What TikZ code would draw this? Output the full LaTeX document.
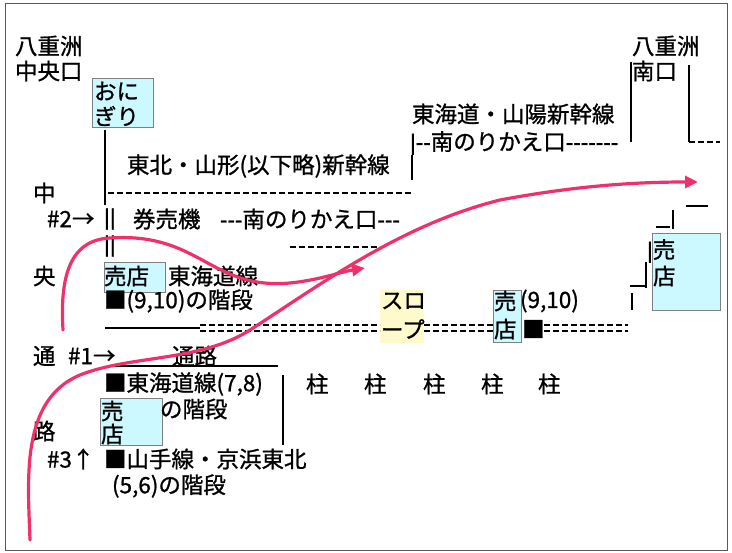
\documentclass[tikz,border=0pt]{standalone}
\usepackage{fontspec}
\setmainfont{Noto Sans CJK JP}[FakeBold=1]
\newfontfamily\latin{Liberation Sans}[FakeBold=1]
\newcommand{\dsh}[1]{{\latin #1}}
\usetikzlibrary{arrows.meta,positioning}
\definecolor{shopColor}{HTML}{CCF8FF}
\definecolor{slopeColor}{HTML}{FFFACC}
\definecolor{routeColor}{HTML}{F0306A}
\tikzset{
	txt/.style={anchor=west,inner sep=0,outer sep=0,font=\fontsize{22.5}{25}\selectfont},
	shop/.style={draw=gray,fill=shopColor,inner sep=0},
	wall/.style={line width=2.6pt},
	thin wall/.style={line width=1.3pt},
	dashes/.style={line width=1.3pt,dash pattern=on 6pt off 3pt},
	route/.style={routeColor,line width=3.2pt,line cap=round,-{Triangle[length=13pt,width=12pt]}}
}
\begin{document}
\begin{tikzpicture}[x=1pt,y=-1pt]
	\useasboundingbox (0,0) rectangle (732,553);
	\draw[gray!70!black] (5,3) rectangle (727,550);
	% shops and slope
	\node[shop,minimum width=61,minimum height=49] (onigiri) at (122.5,102.5) {};
	\node[shop,minimum width=61,minimum height=30] (shopA) at (134.5,277) {};
	\node[shop,minimum width=62,minimum height=47] (shopB) at (131,421.5) {};
	\node[shop,minimum width=28,minimum height=52] (shopC) at (507,316) {};
	\node[shop,minimum width=68,minimum height=77] (shopD) at (686,271.5) {};
	\node[fill=slopeColor,inner sep=0,minimum width=44,minimum height=53] (slope) at (402,316.5) {};
	% texts
	\node[txt] (yaeN1) at (15,46) {八重洲};
	\node[txt] (yaeN2) at (15,71) {中央口};
	\node[txt] (oni1) at (94,91) {おに};
	\node[txt] (oni2) at (94,116) {ぎり};
	\node[txt] (yaeS1) at (632,46) {八重洲};
	\node[txt] (yaeS2) at (632,71) {南口};
	\node[txt] (tokaidoSh) at (412,114) {東海道・山陽新幹線};
	\node[txt] (southA) at (410,143) {\dsh{|--}南のりかえ口\dsh{-------}};
	\node[txt] (tohoku) at (127,166) {東北・山形(以下略)新幹線};
	\node[txt] (naka) at (33,193) {中};
	\node[txt] (no2) at (47,219) {\#2→};
	\node[txt] (bar2) at (104,219) {\dsh{||}};
	\node[txt] (ticket) at (133,219) {券売機};
	\node[txt] (southB) at (220,219) {\dsh{---}南のりかえ口\dsh{---}};
	\node[txt] (bar2b) at (104,246) {\dsh{||}};
	\node[txt] (ou) at (33,276) {央};
	\node[txt] (shopAt) at (104,276) {売店};
	\node[txt] (tokaido) at (168,276) {東海道線};
	\node[txt] (stairA) at (104,301) {■(9,10)の階段};
	\node[txt] (slope1) at (381,301) {スロ};
	\node[txt] (slope2) at (381,329) {ープ};
	\node[txt] (shopCt1) at (494,301) {売};
	\node[txt] (shopCt2) at (494,329) {店};
	\node[txt] (stairC) at (520,301) {(9,10)};
	\node[txt] (sqC) at (522,329) {■};
	\node[txt] (shopDt1) at (647,251) {\dsh{|}売};
	\node[txt] (shopDt2) at (653,276) {店};
	\node[txt] (tsu) at (33,356) {通};
	\node[txt] (no1) at (68,356) {\#1→};
	\node[txt] (tsuro) at (172,356) {通路};
	\node[txt] (stairB) at (104,384) {■東海道線(7,8)};
	\node[txt] (stairB2) at (160,409) {の階段};
	\node[txt] (shopBt1) at (101,411) {売};
	\node[txt] (shopBt2) at (101,434) {店};
	\node[txt] (ro) at (33,431) {路};
	\node[txt] (no3) at (47,459) {\#3↑};
	\node[txt] (stairD) at (104,459) {■山手線・京浜東北};
	\node[txt] (stairD2) at (112,486) {(5,6)の階段};
	\foreach \i/\x in {1/306,2/364,3/423,4/481,5/538}
		\node[txt] (pillar\i) at (\x,384) {柱};
	% walls
	\draw[wall] (105,130) -- (105,205);
	\draw[wall] (631,62) -- (631,142);
	\draw[wall] (689,65) -- (689,142);
	\draw[dashes] (689,142) -- (720,142);
	\draw[thin wall] (412,155) -- (412,180);
	\draw[dashes] (108,193) -- (412,193);
	\draw[dashes] (290,247) -- (378,247);
	\draw[wall] (105,328) -- (200,328);
	\draw[dashes] (200,325) -- (380,325) (200,331) -- (380,331);
	\draw[dashes] (424,325) -- (493,325) (424,331) -- (493,331);
	\draw[dashes] (544,325) -- (628,325) (544,331) -- (628,331);
	\draw[thin wall] (632,293) -- (632,310);
	\draw[thin wall] (630,286) -- (645,286) (646,262) -- (646,288);
	\draw[thin wall] (656,227) -- (670,227) (673,210) -- (673,229);
	\draw[thin wall] (686,206) -- (708,206);
	\draw[wall] (115,366) -- (278,366);
	\draw[wall] (283,375) -- (283,445);
	% routes
	\draw[route] (63,330) .. controls (60,280) and (68,240) .. (110,238)
		.. controls (200,232) and (210,290) .. (290,283)
		.. controls (320,280) and (340,272) .. (365,268);
	\draw[route] (30,540) .. controls (28,480) and (20,400) .. (80,375)
		.. controls (130,355) and (200,362) .. (250,330)
		.. controls (320,285) and (400,225) .. (500,200)
		.. controls (580,185) and (640,182) .. (698,182);
\end{tikzpicture}
\end{document}
